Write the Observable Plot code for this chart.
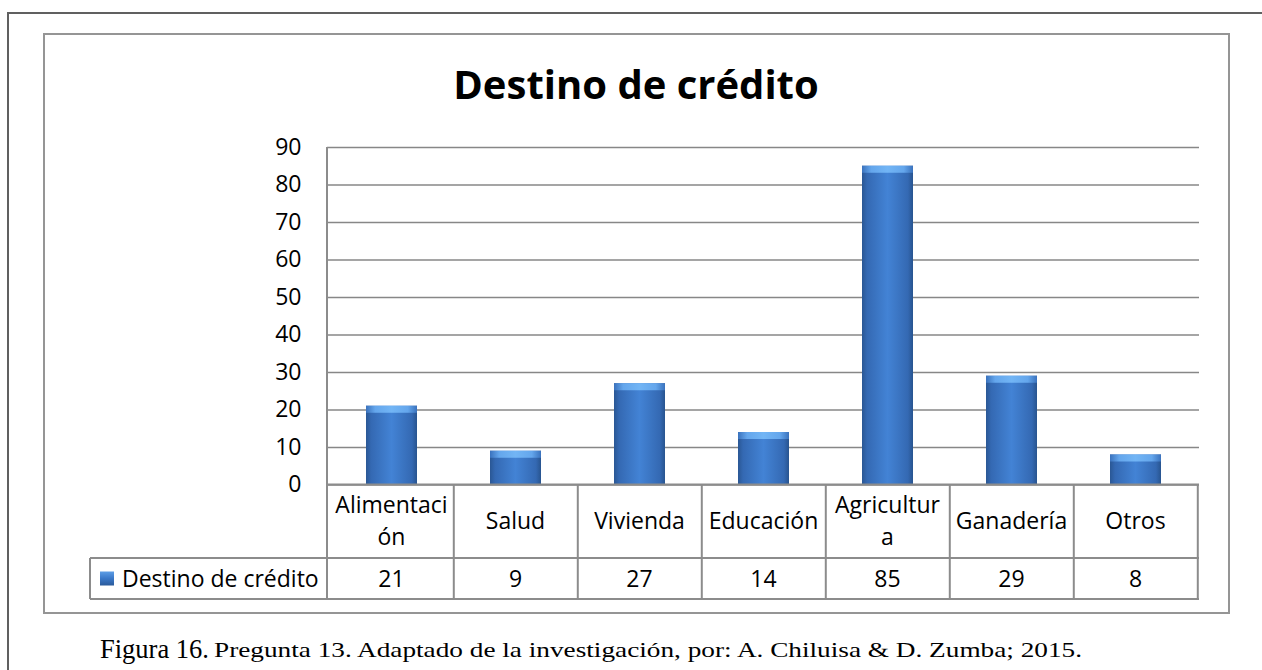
<!DOCTYPE html>
<html>
<head>
<meta charset="utf-8">
<script src="https://cdn.jsdelivr.net/npm/d3@7"></script>
<script src="https://cdn.jsdelivr.net/npm/@observablehq/plot@0.6"></script>
<style>
  html, body { margin: 0; padding: 0; background: #fff; }
  body { width: 1262px; height: 670px; overflow: hidden; position: relative; font-family: "Open Sans", sans-serif; }
  #outer { position: absolute; left: 7px; top: 12px; width: 1400px; height: 800px; border-left: 2px solid #606060; border-top: 2px solid #606060; }
  #inner { position: absolute; left: 43px; top: 33px; width: 1183px; height: 577px; border: 2px solid #959595; }
  #chart { position: absolute; left: 0; top: 0; }
  #title { position: absolute; left: 44px; width: 1184px; top: 64px; text-align: center; font-weight: 700; font-size: 40px; line-height: 1; color: #000; }
  .cap { position: absolute; font-family: "Liberation Serif", "Times New Roman", serif; line-height: 1; white-space: nowrap; color: #000; transform-origin: 0 0; }
  #capLead { left: 100px; top: 636px; font-size: 26.5px; }
  #capRest { left: 214px; top: 639.5px; font-size: 21.5px; }
</style>
</head>
<body>
<div id="outer"></div>
<div id="inner"></div>
<div id="chart"></div>
<div id="title"></div>
<div id="capLead" class="cap"></div>
<div id="capRest" class="cap"></div>
<script>
// ---- data ----
const categories = ["Alimentación", "Salud", "Vivienda", "Educación", "Agricultura", "Ganadería", "Otros"];
const tableLabels = [["Alimentaci", "ón"], ["Salud"], ["Vivienda"], ["Educación"], ["Agricultur", "a"], ["Ganadería"], ["Otros"]];
const values = [21, 9, 27, 14, 85, 29, 8];
const yTicks = [0, 10, 20, 30, 40, 50, 60, 70, 80, 90];
const seriesName = "Destino de crédito";
const titleText = "Destino de crédito";
const captionLead = "Figura 16.";
const captionRest = "Pregunta 13. Adaptado de la investigación, por: A. Chiluisa & D. Zumba; 2015.";

document.getElementById("title").textContent = titleText;
document.getElementById("capLead").textContent = captionLead;
const capRest = document.getElementById("capRest");
capRest.textContent = captionRest;
// the source caption is stretched horizontally to span the line
const restW = capRest.getBoundingClientRect().width;
capRest.style.transform = `scaleX(${(1082 - 214) / restW})`;

const data = categories.map((c, i) => ({cat: c, val: values[i]}));

// gradients for the bevelled bars
function defs() {
  const d = d3.create("svg:defs");
  const addGrad = (id, stops, vertical) => {
    const g = d.append("linearGradient").attr("id", id)
      .attr("x1", 0).attr("y1", 0).attr("x2", vertical ? 0 : 1).attr("y2", vertical ? 1 : 0);
    stops.forEach(([o, c]) => g.append("stop").attr("offset", o).attr("stop-color", c));
  };
  addGrad("barGrad", [[0, "#2a5794"], [0.1, "#3469b3"], [0.5, "#4383d5"], [0.9, "#3469b3"], [1, "#28548f"]]);
  addGrad("bevelGrad", [[0, "#3a72bd"], [0.18, "#64a6ec"], [0.5, "#72b5f5"], [0.82, "#64a6ec"], [1, "#3a72bd"]]);
  addGrad("legGrad", [[0, "#5d9ee6"], [0.5, "#3a78c8"], [1, "#2a5a9a"]], true);
  return d.node();
}

// data table under the plot, positioned by the x band scale
function tableMark(index, scales, vals, dims) {
  const x = scales.x;
  const {width, height, marginLeft, marginRight, marginTop, marginBottom} = dims;
  const left = marginLeft, right = width - marginRight;
  const top = height - marginBottom;
  const mid = top + 73.5, bottom = top + 114.5, legendLeft = 90;
  const bw = x.bandwidth ? x.bandwidth() : 0;
  const step = (right - left) / categories.length;
  const center = c => x(c) + bw / 2;
  const g = d3.create("svg:g");
  const lines = g.append("g").attr("stroke", "#8c8c8c").attr("stroke-width", 2).attr("fill", "none");
  const line = (x1, y1, x2, y2) => lines.append("line").attr("x1", x1).attr("y1", y1).attr("x2", x2).attr("y2", y2);
  line(left, marginTop, left, bottom);
  line(left, top, right, top);
  line(legendLeft, mid, right, mid);
  line(legendLeft, bottom, right, bottom);
  line(legendLeft, mid, legendLeft, bottom);
  categories.forEach(c => line(center(c) + step / 2, top, center(c) + step / 2, bottom));
  const texts = g.append("g").attr("fill", "#000").attr("font-size", 23).attr("text-anchor", "middle");
  const rowMid = (top + mid) / 2, valMid = (mid + bottom) / 2, lh = 32;
  categories.forEach((c, i) => {
    const lab = tableLabels[i];
    const t = texts.append("text").attr("x", center(c));
    lab.forEach((s, k) => {
      t.append("tspan").attr("x", center(c))
        .attr("y", rowMid + (k - (lab.length - 1) / 2) * lh).attr("dy", "0.35em").text(s);
    });
    texts.append("text").attr("x", center(c)).attr("y", valMid).attr("dy", "0.35em").text(values[i]);
  });
  // legend key
  g.append("rect").attr("x", 100).attr("y", valMid - 7).attr("width", 14).attr("height", 14).attr("fill", "url(#legGrad)");
  g.append("text").attr("x", 122).attr("y", valMid).attr("dy", "0.35em").attr("text-anchor", "start")
    .attr("font-size", 23).attr("fill", "#000").text(seriesName);
  return g.node();
}

const chart = Plot.plot({
  width: 1262,
  height: 620,
  marginLeft: 327,
  marginRight: 63,
  marginTop: 147,
  marginBottom: 135.5,
  style: {fontFamily: "'Open Sans', sans-serif", fontSize: "23px", color: "#000", background: "transparent"},
  x: {type: "band", domain: categories, paddingInner: 0.59, paddingOuter: 0.295, axis: null},
  y: {domain: [0, 90], ticks: yTicks, tickSize: 0, tickPadding: 26, label: null, tickFormat: d => String(d)},
  marks: [
    defs,
    Plot.ruleY(yTicks, {stroke: "#878787", strokeWidth: 1.6}),
    Plot.barY(data, {x: "cat", y: "val", fill: "url(#barGrad)"}),
    Plot.barY(data, {x: "cat", y1: "val", y2: "val", insetBottom: -7, fill: "url(#bevelGrad)"}),
    tableMark
  ]
});
document.getElementById("chart").appendChild(chart);
</script>
</body>
</html>
